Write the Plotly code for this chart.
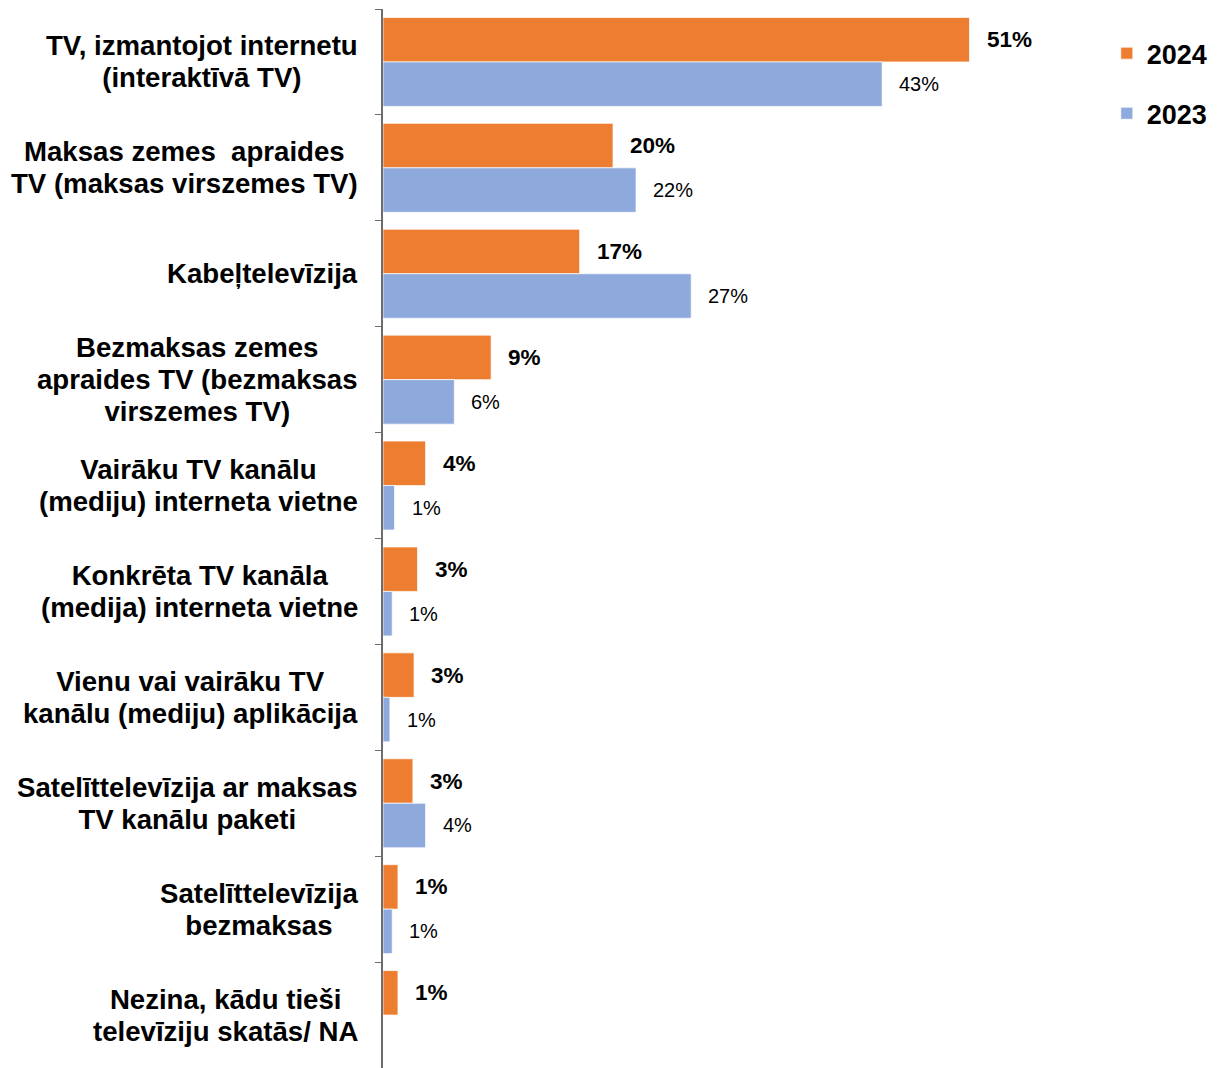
import plotly.graph_objects as go

# category labels, one list of lines per category (top to bottom)
label_lines = [
    ["TV, izmantojot internetu", "(interaktīvā TV)"],
    ["Maksas zemes \u00a0apraides", "TV (maksas virszemes TV)"],
    ["Kabeļtelevīzija"],
    ["Bezmaksas zemes", "apraides TV (bezmaksas", "virszemes TV)"],
    ["Vairāku TV kanālu", "(mediju) interneta vietne"],
    ["Konkrēta TV kanāla", "(medija) interneta vietne"],
    ["Vienu vai vairāku TV", "kanālu (mediju) aplikācija"],
    ["Satelīttelevīzija ar maksas", "TV kanālu paketi"],
    ["Satelīttelevīzija", "bezmaksas"],
    ["Nezina, kādu tieši", "televīziju skatās/ NA"],
]
years = ["2024", "2023"]
values_2024 = [51.0, 20.0, 17.1, 9.4, 3.7, 3.0, 2.7, 2.6, 1.3, 1.3]
values_2023 = [43.4, 22.0, 26.8, 6.2, 1.0, 0.8, 0.6, 3.7, 0.8, None]

colors = {"2024": "#ED7D31", "2023": "#8EA9DB"}
font_family = "Liberation Sans, Arial, sans-serif"

categories = [" ".join(l) for l in label_lines]

fig = go.Figure()
for year, vals in zip(years, [values_2024, values_2023]):
    fig.add_trace(go.Bar(
        y=categories,
        x=vals,
        orientation="h",
        name=year,
        legendgroup=year,
        marker=dict(color=colors[year], line=dict(color="rgba(255,255,255,0.7)", width=1)),
        hoverinfo="x+y",
    ))

annotations = []
# category labels (centered lines, block right-aligned next to the axis)
for i, lines in enumerate(label_lines):
    txt = "<br>".join('<span style="font-size:27.6px">%s</span>' % s for s in lines)
    annotations.append(dict(
        xref="paper", yref="y", x=0, y=i, xanchor="right", yanchor="middle",
        xshift=-23, text="<b>%s</b>" % txt, align="center", showarrow=False,
        font=dict(size=24.6, color="black", family=font_family),
    ))

# value labels
for off, vals, bold, size in [(-0.21, values_2024, True, 22.5), (0.21, values_2023, False, 20)]:
    for i, v in enumerate(vals):
        if v is None:
            continue
        t = "%d%%" % round(v)
        annotations.append(dict(
            xref="x", yref="y", x=v, y=i + off, xanchor="left", yanchor="middle",
            xshift=15, text="<b>%s</b>" % t if bold else t, showarrow=False,
            font=dict(size=size, color="black", family=font_family),
        ))

# page body has an 8px margin, so the figure is 8px smaller than the window
fig.update_layout(
    width=1210, height=1060,
    margin=dict(l=375, r=145, t=1, b=0),
    plot_bgcolor="white", paper_bgcolor="white",
    font=dict(family=font_family, color="black"),
    barmode="group", bargap=0.16, bargroupgap=0,
    showlegend=True,
    legend=dict(
        x=1.049, y=0.981, xanchor="left", yanchor="top",
        font=dict(size=27, family=font_family, color="black", weight="bold"),
        traceorder="grouped", tracegroupgap=22, bgcolor="rgba(0,0,0,0)",
    ),
    annotations=annotations,
)
fig.update_xaxes(range=[0, 60], showgrid=False, zeroline=False, showline=False,
                 showticklabels=False, ticks="")
fig.update_yaxes(range=[9.5, -0.5], showgrid=False, showline=True, linecolor="#6d6d6d",
                 linewidth=1.5, ticks="outside", tickson="boundaries", ticklen=6,
                 tickcolor="#6d6d6d", showticklabels=False)

fig.write_html("out.html")
